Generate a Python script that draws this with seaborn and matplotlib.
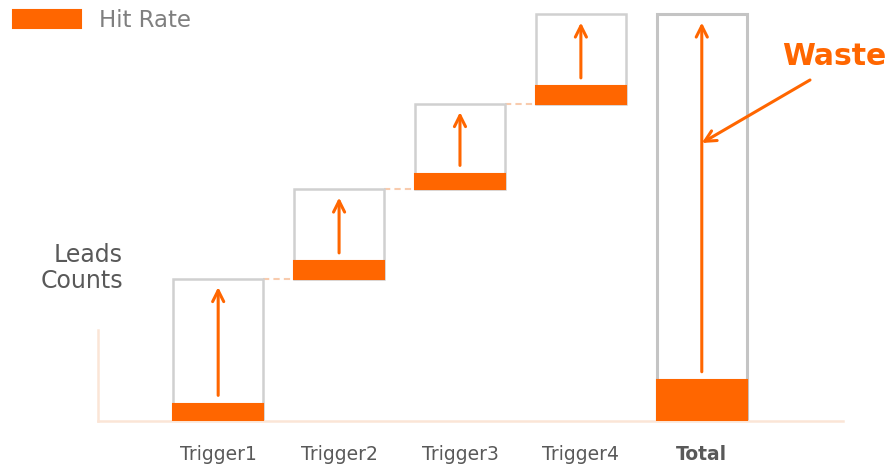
import numpy as np
import pandas as pd
import seaborn as sns
import matplotlib.pyplot as plt

# Lead counts contributed by each trigger, and the hits among them
categories = ["Trigger1", "Trigger2", "Trigger3", "Trigger4", "Total"]
trigger_leads = [35, 22, 21, 22]
trigger_hits = [4.2, 4.2, 3.7, 4.2]
total_hits = 10

ORANGE = "#FF6600"
BOX_EDGE = "#D0D0D0"
AXIS_COLOR = "#FBE5D6"
CONNECTOR = "#F8CBAD"
TEXT_GRAY = "#595959"

sns.set_style("white")
plt.rcParams["font.family"] = ["DejaVu Sans"]

# Waterfall geometry: each trigger box floats on the previous cumulative total
ends = np.cumsum(trigger_leads)
starts = np.concatenate([[0], ends[:-1]])
total_leads = ends[-1]

box_df = pd.DataFrame({
    "category": categories,
    "height": list(trigger_leads) + [total_leads],
    "bottom": list(starts) + [0],
})
hit_df = pd.DataFrame({
    "category": categories,
    "hits": list(trigger_hits) + [total_hits],
})

fig = plt.figure(figsize=(8.87, 4.65), dpi=100)
ax = fig.add_axes([98 / 887, 44 / 465, 745 / 887, 421 / 465])

width = 0.74
sns.barplot(data=box_df, x="category", y="height", bottom=box_df["bottom"],
            color="white", edgecolor=BOX_EDGE, linewidth=1.8, width=width,
            errorbar=None, ax=ax, zorder=2)
# The total box gets a slightly stronger outline
ax.patches[-1].set_edgecolor("#C4C4C4")
ax.patches[-1].set_linewidth(2.2)

sns.barplot(data=hit_df, x="category", y="hits", bottom=box_df["bottom"],
            color=ORANGE, saturation=1, edgecolor=ORANGE, linewidth=1.5,
            width=width, errorbar=None, ax=ax, zorder=3, label="Hit Rate")
if ax.get_legend() is not None:
    ax.get_legend().remove()

# Dashed connectors between consecutive trigger boxes
for i in range(len(trigger_leads) - 1):
    ax.hlines(ends[i], i + width / 2, i + 1 - width / 2, colors=CONNECTOR,
              linestyles=(0, (3, 2)), linewidth=1.5, zorder=1)

# Upward arrows inside each box, from the hit bar to the top of the box
arrow_style = "->,head_width=0.4,head_length=0.8"
tops = list(ends) + [total_leads]
hit_tops = [b + h for b, h in zip(box_df["bottom"], hit_df["hits"])]
for i, (top, ht) in enumerate(zip(tops, hit_tops)):
    ax.annotate("", xy=(i, top - 2.1), xytext=(i, ht + 2.1),
                arrowprops=dict(arrowstyle=arrow_style, color=ORANGE, lw=2.2,
                                shrinkA=0, shrinkB=0), zorder=4)

# Waste call-out pointing at the total arrow
ax.annotate("", xy=(4, 68.3), xycoords="data",
            xytext=(810 / 887, 1 - 80 / 465), textcoords="figure fraction",
            arrowprops=dict(arrowstyle=arrow_style, color=ORANGE, lw=2.2,
                            shrinkA=0, shrinkB=0), zorder=5)
fig.text(782 / 887, 1 - 65 / 465, "Waste", color=ORANGE, fontsize=21.5,
         fontweight="bold", ha="left", va="baseline")

# Axes styling
ax.set_xlim(-0.994, 5.168)
ax.set_ylim(0, 103.44)
sns.despine(ax=ax, top=True, right=True)
ax.spines["left"].set_bounds(0, 22.4)
for side in ("left", "bottom"):
    ax.spines[side].set_color(AXIS_COLOR)
    ax.spines[side].set_linewidth(1.8)
ax.set_yticks([])
ax.set_xlabel("")
ax.set_ylabel("")
ax.set_xticks(range(len(categories)), categories)
ax.tick_params(axis="x", length=0, pad=17, labelsize=13.5, labelcolor=TEXT_GRAY)
ax.get_xticklabels()[-1].set_fontweight("bold")

# Axis title to the left of the first box
fig.text(123 / 887, 1 - 262 / 465, "Leads", ha="right", va="baseline",
         fontsize=17, color=TEXT_GRAY)
fig.text(123 / 887, 1 - 288 / 465, "Counts", ha="right", va="baseline",
         fontsize=17, color=TEXT_GRAY)

handles, labels = ax.get_legend_handles_labels()
leg = fig.legend(handles[-1:], labels[-1:], loc="upper left",
                 bbox_to_anchor=(13 / 887, 1 - 9 / 465),
                 bbox_transform=fig.transFigure, frameon=False, borderpad=0,
                 borderaxespad=0, handlelength=2.95, handleheight=0.85,
                 handletextpad=0.8, fontsize=16.5)
for t in leg.get_texts():
    t.set_color("#7F7F7F")

fig.savefig("out.png", dpi=100)
